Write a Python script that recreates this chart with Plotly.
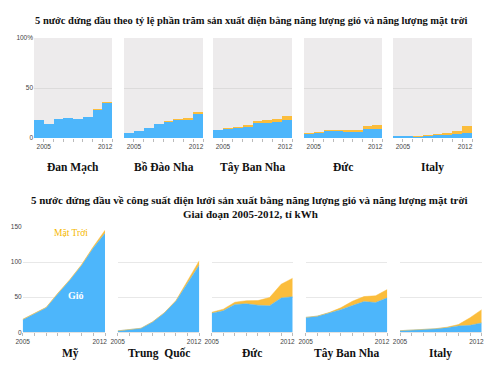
import plotly.graph_objects as go
from plotly.subplots import make_subplots

years = [2005, 2006, 2007, 2008, 2009, 2010, 2011, 2012]

# Top: share of electricity (%)
top_countries = ["Đan Mạch", "Bồ Đào Nha", "Tây Ban Nha", "Đức", "Italy"]
dk_wind = [18.5, 14, 19, 19.8, 19.3, 21, 28.8, 35.5]
dk_solar = [0, 0, 0, 0, 0, 0, 0.1, 0.5]
pt_wind = [5, 7, 10, 14, 16, 18, 18.8, 24.5]
pt_solar = [0, 0, 0, 0, 0.2, 0.3, 0.5, 0.7]
es_wind = [8, 9, 10, 11.3, 14.6, 15.5, 15.8, 17.8]
es_solar = [0, 0.1, 0.4, 1.4, 2.0, 2.9, 3.4, 4.0]
de_wind = [4.6, 5.4, 7.0, 7.0, 6.6, 6.3, 8.8, 9.3]
de_solar = [0.2, 0.4, 0.5, 0.7, 1.1, 1.9, 3.0, 4.0]
it_wind = [1.2, 1.8, 1.9, 2.3, 3.0, 3.8, 4.3, 5.4]
it_solar = [0, 0, 0.1, 0.2, 0.5, 0.8, 2.9, 6.3]
top_wind = [dk_wind, pt_wind, es_wind, de_wind, it_wind]
top_solar = [dk_solar, pt_solar, es_solar, de_solar, it_solar]

# Bottom: generation (billion kWh)
bot_countries = ["Mỹ", "Trung  Quốc", "Đức", "Tây Ban Nha", "Italy"]
us_wind = [18, 27, 35, 55, 74, 95, 120, 141]
us_solar = [0.5, 0.5, 0.6, 0.9, 0.9, 1.2, 1.8, 4.3]
cn_wind = [2, 3.7, 5.7, 14.8, 27.6, 44.6, 70.3, 96]
cn_solar = [0.1, 0.1, 0.1, 0.2, 0.3, 0.7, 2.6, 6.0]
de_wind_b = [27.2, 30.7, 39.7, 40.6, 38.6, 37.8, 48.9, 50.7]
de_solar_b = [1.3, 2.2, 3.1, 4.4, 6.6, 11.7, 19.6, 26.4]
es_wind_b = [21.2, 23.0, 27.6, 32.2, 38.1, 43.7, 42.4, 49.1]
es_solar_b = [0.04, 0.1, 0.5, 2.6, 6.1, 7.2, 9.6, 11.9]
it_wind_b = [2.3, 3.0, 4.0, 4.9, 6.5, 9.1, 9.9, 13.4]
it_solar_b = [0.03, 0.04, 0.04, 0.2, 0.7, 1.9, 10.8, 18.9]
bot_wind = [us_wind, cn_wind, de_wind_b, es_wind_b, it_wind_b]
bot_solar = [us_solar, cn_solar, de_solar_b, es_solar_b, it_solar_b]

tick_labels = ["2005", "2012"]
# label placement (end label nudged inward, as in the original)
top_label_pos = [2005, 2011.3]
bot_label_pos = [2005, 2011.55]

WIND = "#4db6fb"
SOLAR = "#fbbd3c"
W, H = 500, 378

top_x = [(34, 112), (124, 203), (213, 292), (304, 382), (393, 472)]
top_y = (38, 138)
bot_x = [(22.7, 105), (117.7, 199.3), (211.7, 292.7), (305.7, 387.3), (400, 481.7)]
bot_y = (227, 332.3)

fig = make_subplots(rows=2, cols=5)

for i in range(5):
    r, c = 1, i + 1
    fig.add_trace(go.Bar(x=years, y=top_wind[i], width=1, offset=-1,
                         marker=dict(color=WIND, line=dict(width=0)),
                         showlegend=False, hoverinfo="skip"), row=r, col=c)
    fig.add_trace(go.Bar(x=years, y=top_solar[i], width=1, offset=-1,
                         marker=dict(color=SOLAR, line=dict(width=0)),
                         showlegend=False, hoverinfo="skip"), row=r, col=c)
    r = 2
    fig.add_trace(go.Scatter(x=years, y=bot_wind[i], mode="lines", stackgroup=f"s{i}",
                             line=dict(width=0.5, color=WIND), fillcolor=WIND,
                             showlegend=False, hoverinfo="skip"), row=r, col=c)
    fig.add_trace(go.Scatter(x=years, y=bot_solar[i], mode="lines", stackgroup=f"s{i}",
                             line=dict(width=0.5, color=SOLAR), fillcolor=SOLAR,
                             showlegend=False, hoverinfo="skip"), row=r, col=c)

tick_font = dict(family="Liberation Sans, Arial", size=6.5, color="#444")
minor_ticks = dict(tickvals=years, ticks="outside", ticklen=3, tickcolor="#bbb", showgrid=False)
layout_upd = {}
shapes = []
annotations = []
NAME_SIZE = 11.5
for i in range(5):
    n = i + 1
    xa = "xaxis" if n == 1 else f"xaxis{n}"
    ya = "yaxis" if n == 1 else f"yaxis{n}"
    x0, x1 = top_x[i]
    layout_upd[xa] = dict(domain=[x0 / W, x1 / W], range=[2004, 2012],
                          tickvals=top_label_pos, ticktext=tick_labels, ticks="",
                          minor=minor_ticks, ticklabelstandoff=3,
                          showgrid=False, zeroline=False, showline=False, tickfont=tick_font,
                          fixedrange=True, automargin=False)
    layout_upd[ya] = dict(domain=[1 - top_y[1] / H, 1 - top_y[0] / H], range=[0, 100],
                          tickvals=[0, 50, 100], ticktext=["0", "50", "100%"],
                          showticklabels=(i == 0), showgrid=True, gridcolor="#dcdbdb",
                          gridwidth=1, zeroline=False, showline=False, ticks="",
                          tickfont=tick_font, fixedrange=True, automargin=False)
    shapes.append(dict(type="rect", xref=f"x{'' if n == 1 else n} domain",
                       yref=f"y{'' if n == 1 else n} domain", x0=0, x1=1, y0=0, y1=1,
                       fillcolor="#edebec", line=dict(width=0), layer="below"))
    annotations.append(dict(text=f"<b>{top_countries[i]}</b>", x=(x0 + x1) / 2 / W,
                            y=1 - 167 / H, xref="paper", yref="paper", showarrow=False,
                            xanchor="center", yanchor="middle",
                            font=dict(family="Liberation Serif", size=NAME_SIZE, color="#111")))

    n = i + 6
    xa = f"xaxis{n}"
    ya = f"yaxis{n}"
    x0, x1 = bot_x[i]
    layout_upd[xa] = dict(domain=[x0 / W, x1 / W], range=[2005, 2012],
                          tickvals=bot_label_pos, ticktext=tick_labels, ticks="",
                          minor=minor_ticks, ticklabelstandoff=3,
                          showgrid=False, zeroline=False, showline=True, linecolor="#e3e3e3",
                          tickfont=tick_font, fixedrange=True, automargin=False)
    layout_upd[ya] = dict(domain=[1 - bot_y[1] / H, 1 - bot_y[0] / H], range=[0, 150],
                          tickvals=[0, 50, 100, 150], showticklabels=(i == 0),
                          showgrid=True, gridcolor="#e8e8e8", gridwidth=1, zeroline=False,
                          showline=False, ticks="", tickfont=tick_font, fixedrange=True,
                          automargin=False)
    cx = (x0 + x1) / 2 if i != 0 else 70
    annotations.append(dict(text=f"<b>{bot_countries[i]}</b>", x=cx / W,
                            y=1 - 353 / H, xref="paper", yref="paper", showarrow=False,
                            xanchor="center", yanchor="middle",
                            font=dict(family="Liberation Serif", size=NAME_SIZE, color="#111")))

annotations.append(dict(
    text="<b>5 nước đứng đầu theo tỷ lệ phần trăm sản xuất điện bằng năng lượng gió và năng lượng mặt trời</b>",
    x=251 / W, y=1 - 20 / H, xref="paper", yref="paper", showarrow=False,
    xanchor="center", yanchor="middle",
    font=dict(family="Liberation Serif", size=10.5, color="#111")))
annotations.append(dict(
    text="<b>5 nước đứng đầu về công suất điện lưới sản xuất bằng năng lượng gió và năng lượng mặt trời</b>",
    x=249 / W, y=1 - 200 / H, xref="paper", yref="paper", showarrow=False,
    xanchor="center", yanchor="middle",
    font=dict(family="Liberation Serif", size=11, color="#111")))
annotations.append(dict(
    text="<b>Giai đoạn 2005-2012, tỉ kWh</b>",
    x=250 / W, y=1 - 214 / H, xref="paper", yref="paper", showarrow=False,
    xanchor="center", yanchor="middle",
    font=dict(family="Liberation Serif", size=11, color="#111")))
annotations.append(dict(text="Mặt Trời", x=2009.07, y=141.6, xref="x6", yref="y6",
                        showarrow=False, xanchor="center", yanchor="middle",
                        font=dict(family="Liberation Serif", size=9.5, color="#f5b800")))
annotations.append(dict(text="<b>Gió</b>", x=2009.5, y=52, xref="x6", yref="y6",
                        showarrow=False, xanchor="center", yanchor="middle",
                        font=dict(family="Liberation Serif", size=10, color="#ffffff")))

fig.update_layout(**layout_upd)
fig.update_layout(width=W, height=H, margin=dict(l=0, r=0, t=0, b=0, autoexpand=False),
                  paper_bgcolor="white", plot_bgcolor="white",
                  barmode="stack", bargap=0, shapes=shapes, annotations=annotations,
                  showlegend=False)

fig.write_html("out.html", config={"displayModeBar": False},
               post_script="document.body.style.margin='0';document.body.style.overflow='hidden';")
